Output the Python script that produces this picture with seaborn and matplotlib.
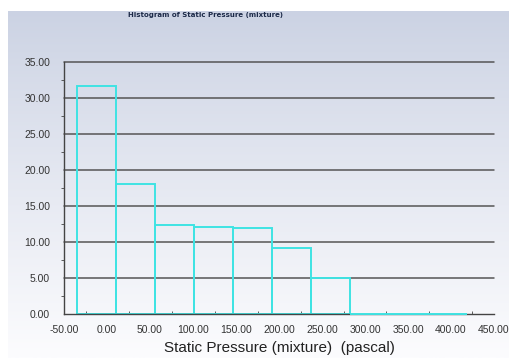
import numpy as np
import matplotlib
matplotlib.use('Agg')
import matplotlib.pyplot as plt
from matplotlib.ticker import MultipleLocator
import seaborn as sns

# histogram bins (pascal) and their percentages
bin_edges = [-34.6, 10.7, 56.0, 101.3, 146.6, 191.9, 237.2, 282.5, 327.8, 373.1, 418.4]
percent = [31.6, 18.1, 12.4, 12.1, 12.0, 9.1, 5.0, 0.0, 0.0, 0.0]
x_ticks = [-50, 0, 50, 100, 150, 200, 250, 300, 350, 400, 450]
y_ticks = [0, 5, 10, 15, 20, 25, 30, 35]

centers = [(bin_edges[i] + bin_edges[i + 1]) / 2 for i in range(len(percent))]

sns.set_style('white')
plt.rcParams['font.family'] = ['Liberation Sans', 'DejaVu Sans']

fig = plt.figure(figsize=(5.10, 3.58), dpi=100)
fig.patch.set_facecolor('white')

# gradient backdrop
bg = fig.add_axes([8 / 510, 0, 502 / 510, 1 - 11 / 358], zorder=0)
grad = np.linspace(0, 1, 256).reshape(-1, 1)
top = np.array([203, 210, 227]) / 255
bottom = np.array([252, 252, 254]) / 255
img = top + (bottom - top) * grad[:, :, None] ** 0.9
bg.imshow(img, aspect='auto', extent=[0, 1, 0, 1])
bg.axis('off')

ax = fig.add_axes([64 / 510, 1 - 314 / 358, 430 / 510, 252 / 358], zorder=1)
ax.patch.set_alpha(0)

sns.histplot(x=centers, weights=percent, bins=bin_edges, fill=False,
             element='bars', color='#3fe3e3', linewidth=1.4, ax=ax)

# empty bins show up as a cyan line on the baseline
for p in ax.patches:
    if p.get_height() == 0:
        p.set_zorder(5)
        p.set_clip_on(False)

ax.set_xlim(-50, 450)
ax.set_ylim(0, 35)
ax.set_xticks(x_ticks)
ax.set_xticklabels([f'{v:.2f}' for v in x_ticks])
ax.set_yticks(y_ticks)
ax.set_yticklabels([f'{v:.2f}' for v in y_ticks])
ax.xaxis.set_minor_locator(MultipleLocator(25))
ax.yaxis.set_minor_locator(MultipleLocator(2.5))

for v in y_ticks[1:]:
    ax.axhline(v, color='#555555', linewidth=1.1, zorder=0.5, clip_on=False)

for s in ['top', 'right']:
    ax.spines[s].set_visible(False)
for s in ['left', 'bottom']:
    ax.spines[s].set_color('#444444')
    ax.spines[s].set_linewidth(1.0)

ax.tick_params(axis='both', which='major', labelsize=7.5, colors='#444444',
               labelcolor='#333333', length=4, width=0.8)
ax.tick_params(axis='y', which='major', direction='out', pad=6)
ax.tick_params(axis='x', which='major', direction='inout', pad=6)
ax.tick_params(axis='y', which='minor', direction='out', length=2, left=True, colors='#444444')
ax.tick_params(axis='x', which='minor', direction='in', length=2, bottom=True, colors='#444444')

ax.set_xlabel('Static Pressure (mixture)  (pascal)', fontsize=11, color='#222222', labelpad=4)
ax.set_ylabel('')

fig.text(206 / 510, 1 - 15 / 358, 'Histogram of Static Pressure (mixture)',
         fontsize=5.0, fontweight='bold', color='#1c2a48', ha='center', va='center',
         family=['DejaVu Sans'])

fig.savefig('out.png', dpi=100)
